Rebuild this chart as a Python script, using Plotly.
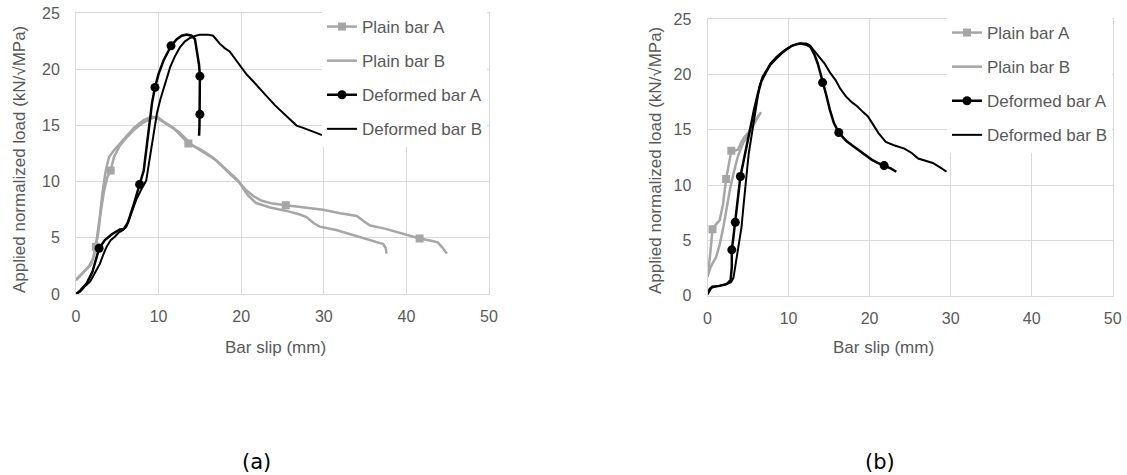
import plotly.graph_objects as go

# ---------------- data: chart (a) ----------------
pa_a_x = [0, 1.0, 1.8, 2.2, 2.4, 2.7, 3.0, 3.4, 3.8, 4.2, 4.6, 5.3, 6.2, 7.0, 8.0, 9.0, 9.8, 10.5, 11.8, 12.6,
          13.6, 15.0, 16.5, 18.0, 19.5, 20.5, 21.5, 22.5, 23.8, 25.4, 27.5, 29.9, 32.0, 34.0, 34.8, 35.6, 37.5,
          39.2, 40.5, 41.6, 43.0, 43.8, 44.4, 44.9]
pa_a_y = [1.3, 2.0, 2.6, 3.5, 4.2, 5.5, 7.3, 9.2, 10.4, 11.0, 12.2, 13.2, 14.0, 14.6, 15.2, 15.6, 15.8, 15.4, 14.8, 14.2,
          13.4, 12.9, 12.2, 11.2, 10.2, 9.3, 8.7, 8.3, 8.05, 7.9, 7.7, 7.5, 7.2, 6.95, 6.5, 6.1, 5.8,
          5.45, 5.2, 4.95, 4.75, 4.6, 4.1, 3.6]
pa_a_mx = [2.4, 4.2, 13.6, 25.4, 41.6]
pa_a_my = [4.2, 11.0, 13.4, 7.9, 4.95]

pb_a_x = [0, 0.8, 1.6, 2.1, 2.5, 2.9, 3.2, 3.6, 4.0, 4.6, 5.2, 6.0, 7.0, 8.2, 9.2, 10.0, 11.2, 12.5, 14.0, 15.5,
          17.0, 18.5, 19.8, 20.8, 21.8, 23.5, 25.5, 27.0, 27.9, 28.8, 29.5, 31.5, 33.6, 35.0, 36.4, 37.2, 37.5, 37.6]
pb_a_y = [1.2, 1.9, 2.5, 3.2, 4.8, 7.0, 9.0, 11.0, 12.2, 12.8, 13.3, 13.9, 14.8, 15.5, 15.8, 15.6, 15.0, 14.4, 13.3, 12.6,
          11.9, 10.8, 9.9, 8.8, 8.1, 7.7, 7.4, 7.1, 6.85, 6.3, 6.0, 5.7, 5.25, 4.9, 4.6, 4.45, 4.1, 3.6]

da_a_x = [0, 0.5, 1.3, 2.0, 2.8, 3.5, 4.3, 5.3, 5.8, 6.3, 7.0, 7.7, 8.2, 8.5, 8.9, 9.2, 9.56, 10.0, 10.6, 11.5,
          12.2, 12.8, 13.4, 14.0, 14.4, 14.7, 14.9, 15.0, 15.0, 15.0, 14.95, 14.9]
da_a_y = [0, 0.3, 0.95, 2.0, 4.07, 4.8, 5.3, 5.75, 5.8, 6.4, 8.0, 9.76, 11.0, 12.8, 15.2, 17.0, 18.4, 19.6, 20.8, 22.1,
          22.7, 23.0, 23.1, 23.0, 22.7, 21.4, 20.4, 19.4, 17.6, 16.0, 15.0, 14.1]
da_a_mx = [2.8, 7.7, 9.56, 11.5, 15.0, 15.0]
da_a_my = [4.07, 9.76, 18.4, 22.1, 19.4, 16.0]

db_a_x = [0, 0.5, 1.1, 1.7, 2.3, 2.9, 3.3, 3.7, 4.2, 4.7, 5.2, 5.7, 6.1, 6.7, 7.3, 7.9, 8.5, 8.8, 9.15, 9.5,
          9.8, 10.2, 10.6, 11.0, 11.4, 12.0, 12.6, 13.2, 13.8, 14.5, 15.0, 16.0, 16.6, 17.4, 18.0, 18.6, 19.2,
          19.8, 20.6, 21.5, 22.3, 23.1, 24.1, 25.1, 25.9, 26.7, 27.5, 28.3, 29.1, 29.8]
db_a_y = [0, 0.2, 0.7, 1.1, 1.9, 2.7, 3.5, 4.2, 4.8, 5.1, 5.5, 5.7, 6.0, 7.2, 8.4, 9.3, 10.1, 11.5, 13.1, 14.8,
          16.1, 17.3, 18.2, 19.2, 20.2, 21.2, 22.0, 22.5, 22.8, 23.0, 23.1, 23.1, 23.0, 22.3, 21.9, 21.6, 21.0,
          20.4, 19.6, 18.9, 18.2, 17.6, 16.8, 16.1, 15.5, 15.0, 14.8, 14.6, 14.35, 14.15]

# ---------------- data: chart (b) ----------------
pa_b_x = [0, 0.3, 0.62, 1.0, 1.5, 1.9, 2.3, 2.6, 2.94, 3.3, 3.75, 4.2, 4.6, 5.1, 5.8, 6.6]
pa_b_y = [1.7, 3.5, 6.0, 6.4, 6.8, 8.2, 10.55, 11.9, 13.1, 13.1, 13.2, 13.9, 14.4, 14.8, 15.6, 16.6]
pa_b_mx = [0.62, 2.3, 2.94]
pa_b_my = [6.0, 10.55, 13.1]

pb_b_x = [0, 0.4, 1.07, 1.5, 1.96, 2.4, 2.85, 3.3, 3.75, 4.4, 4.9, 5.3, 5.8, 6.3]
pb_b_y = [1.7, 2.6, 3.5, 4.6, 6.2, 8.0, 9.9, 11.3, 12.6, 13.8, 14.4, 15.0, 15.6, 16.3]

da_b_x = [0, 0.3, 0.6, 1.5, 2.4, 2.85, 3.0, 3.0, 3.2, 3.43, 3.75, 4.06, 4.4, 4.64, 5.1, 5.4, 5.75, 6.2, 6.65, 7.2,
          7.76, 8.4, 9.1, 9.8, 10.4, 11.0, 11.55, 12.2, 12.7, 13.2, 13.6, 13.9, 14.2, 14.6, 15.1, 15.6, 16.2,
          16.7, 17.1, 18.0, 18.9, 19.6, 20.25, 21.0, 21.8, 22.6, 23.3]
da_b_y = [0.2, 0.6, 0.8, 0.87, 1.05, 1.4, 2.6, 4.13, 5.3, 6.63, 8.65, 10.77, 12.0, 12.9, 14.7, 15.8, 16.8, 18.2, 19.4, 20.2,
          20.9, 21.4, 21.9, 22.3, 22.6, 22.75, 22.8, 22.7, 22.5, 21.8, 21.0, 20.2, 19.27, 18.3, 16.8, 15.6, 14.75,
          14.3, 14.0, 13.5, 13.0, 12.6, 12.3, 12.0, 11.76, 11.5, 11.2]
da_b_mx = [3.0, 3.43, 4.06, 14.2, 16.2, 21.8]
da_b_my = [4.13, 6.63, 10.77, 19.27, 14.75, 11.76]

db_b_x = [0, 0.5, 1.2, 2.2, 2.9, 3.2, 3.4, 3.6, 3.75, 4.0, 4.2, 4.4, 4.64, 4.9, 5.1, 5.4, 5.75, 6.1, 6.4, 6.8,
          7.3, 7.76, 8.5, 9.5, 10.4, 11.3, 12.2, 12.7, 13.1, 13.8, 14.45, 15.1, 15.8, 16.4, 17.1, 17.8, 18.5,
          19.2, 19.8, 20.5, 21.1, 22.0, 23.0, 24.3, 25.2, 26.0, 27.0, 27.8, 28.7, 29.5]
db_b_y = [0.1, 0.7, 0.85, 1.0, 1.2, 1.6, 2.5, 3.4, 4.13, 5.2, 6.2, 7.8, 9.9, 11.5, 12.9, 14.4, 15.9, 17.5, 18.9, 19.8,
          20.4, 21.0, 21.6, 22.2, 22.6, 22.8, 22.8, 22.6, 22.2, 21.6, 21.0, 20.2, 19.5, 18.7, 18.0, 17.5, 17.1,
          16.6, 16.2, 15.4, 14.7, 13.9, 13.6, 13.3, 12.9, 12.4, 12.2, 12.0, 11.6, 11.2]

names = ["Plain bar A", "Plain bar B", "Deformed bar A", "Deformed bar B"]
x_ticks = [0, 10, 20, 30, 40, 50]
y_ticks = [0, 5, 10, 15, 20, 25]

GREY = "#a6a6a6"
BLACK = "#000000"
TXT = "#595959"
GRID = "#d9d9d9"
FONT = "Arial, Liberation Sans, sans-serif"
W, H = 1127, 475

fig = go.Figure()


def add_chart(xa, ya, leg, series):
    for i, (nm, x, y, mx, my, color, lw, sym, msz) in enumerate(series):
        fig.add_trace(go.Scatter(x=x, y=y, mode="lines", line=dict(color=color, width=lw),
                                 xaxis=xa, yaxis=ya, showlegend=False, hoverinfo="skip"))
        if mx:
            fig.add_trace(go.Scatter(x=mx, y=my, mode="markers",
                                     marker=dict(color=color, size=msz, symbol=sym),
                                     xaxis=xa, yaxis=ya, showlegend=False))
        # legend entry
        fig.add_trace(go.Scatter(x=[None], y=[None],
                                 mode="lines+markers" if mx else "lines",
                                 line=dict(color=color, width=lw),
                                 marker=dict(color=color, size=msz, symbol=sym),
                                 name=nm, legend=leg, legendgroup=leg + str(i),
                                 xaxis=xa, yaxis=ya, showlegend=True))


add_chart("x", "y", "legend", [
    (names[0], pa_a_x, pa_a_y, pa_a_mx, pa_a_my, GREY, 2.5, "square", 8),
    (names[1], pb_a_x, pb_a_y, None, None, GREY, 2.5, "square", 8),
    (names[2], da_a_x, da_a_y, da_a_mx, da_a_my, BLACK, 2.5, "circle", 9),
    (names[3], db_a_x, db_a_y, None, None, BLACK, 2.0, "circle", 9),
])
add_chart("x2", "y2", "legend2", [
    (names[0], pa_b_x, pa_b_y, pa_b_mx, pa_b_my, GREY, 2.5, "square", 8),
    (names[1], pb_b_x, pb_b_y, None, None, GREY, 2.5, "square", 8),
    (names[2], da_b_x, da_b_y, da_b_mx, da_b_my, BLACK, 2.5, "circle", 9),
    (names[3], db_b_x, db_b_y, None, None, BLACK, 2.0, "circle", 9),
])

axis_common = dict(showgrid=True, gridcolor=GRID, gridwidth=1, showline=True, linecolor=GRID,
                   linewidth=1, mirror=True, zeroline=False, ticks="", automargin=False,
                   tickfont=dict(family=FONT, size=16, color=TXT))

fig.update_layout(
    width=W, height=H, margin=dict(l=0, r=0, t=0, b=0, pad=0, autoexpand=False),
    paper_bgcolor="white", plot_bgcolor="white",
    xaxis=dict(domain=[76 / W, 489 / W], range=[0, 50], tickvals=x_ticks, anchor="y",
               ticklabelstandoff=8, **axis_common),
    yaxis=dict(domain=[1 - 294 / H, 1 - 13.3 / H], range=[0, 25], tickvals=y_ticks, anchor="x",
               ticklabelstandoff=12, **axis_common),
    xaxis2=dict(domain=[707.5 / W, 1112.7 / W], range=[0, 50], tickvals=x_ticks, anchor="y2",
                ticklabelstandoff=8, **axis_common),
    yaxis2=dict(domain=[1 - 295.5 / H, 1 - 19.3 / H], range=[0, 25], tickvals=y_ticks, anchor="x2",
                ticklabelstandoff=12, **axis_common),
    legend=dict(x=322 / W, y=1 - 9 / H, xanchor="left", yanchor="top", bgcolor="white",
                font=dict(family=FONT, size=17, color=TXT), tracegroupgap=9, itemwidth=30),
    legend2=dict(x=947 / W, y=1 - 15 / H, xanchor="left", yanchor="top", bgcolor="white",
                 font=dict(family=FONT, size=17, color=TXT), tracegroupgap=9, itemwidth=30),
    showlegend=True,
)

ann = []
for (cx, cy) in [(20, 160), (655, 161)]:
    ann.append(dict(text="Applied normalized load (kN/√MPa)", x=cx / W, y=1 - cy / H, xref="paper",
                    yref="paper", showarrow=False, textangle=-90, xanchor="center", yanchor="middle",
                    font=dict(family=FONT, size=17, color=TXT)))
for (cx, cy) in [(275, 347), (883, 347)]:
    ann.append(dict(text="Bar slip (mm)", x=cx / W, y=1 - cy / H, xref="paper", yref="paper",
                    showarrow=False, xanchor="center", yanchor="middle",
                    font=dict(family=FONT, size=17, color=TXT)))
for (lab, cx, cy) in [("(a)", 256, 462), ("(b)", 880, 462)]:
    ann.append(dict(text=lab, x=cx / W, y=1 - cy / H, xref="paper", yref="paper", showarrow=False,
                    xanchor="center", yanchor="middle",
                    font=dict(family="DejaVu Sans, Verdana, sans-serif", size=21, color="#000000")))
fig.update_layout(annotations=ann)

fig.write_html("out.html", config={"displayModeBar": False},
               post_script="document.body.style.margin='0px';document.body.style.overflow='hidden';")
